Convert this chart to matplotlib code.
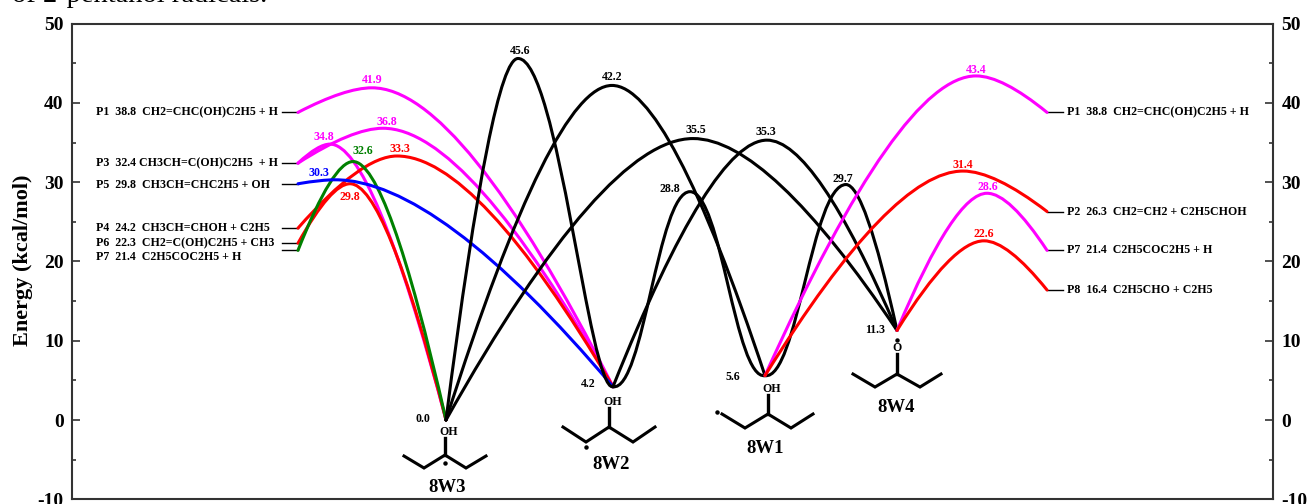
import matplotlib
matplotlib.use('Agg')
import matplotlib.pyplot as plt
from matplotlib.path import Path
from matplotlib.patches import PathPatch

plt.rcParams['font.family'] = ['Liberation Serif', 'DejaVu Serif']
plt.rcParams['font.weight'] = 'bold'
plt.rcParams['axes.unicode_minus'] = False

# wells
well_names = ['8W3', '8W2', '8W1', '8W4']
well_x = [446, 613, 765, 897]
well_e = [0.0, 4.2, 5.6, 11.3]

# products on each side
left_x = 298
right_x = 1047
left_labels = ['P1  38.8  CH2=CHC(OH)C2H5 + H', 'P3  32.4 CH3CH=C(OH)C2H5  + H', 'P5  29.8  CH3CH=CHC2H5 + OH',
               'P4  24.2  CH3CH=CHOH + C2H5', 'P6  22.3  CH2=C(OH)C2H5 + CH3', 'P7  21.4  C2H5COC2H5 + H']
left_e = [38.8, 32.4, 29.8, 24.2, 22.3, 21.4]
right_labels = ['P1  38.8  CH2=CHC(OH)C2H5 + H', 'P2  26.3  CH2=CH2 + C2H5CHOH', 'P7  21.4  C2H5COC2H5 + H', 'P8  16.4  C2H5CHO + C2H5']
right_e = [38.8, 26.3, 21.4, 16.4]

# barriers: start, peak, end
start_x = [298, 298, 298, 298, 298, 298, 298, 446, 446, 446, 613, 613, 765, 765, 765, 897, 897]
start_e = [38.8, 32.4, 32.4, 24.2, 22.3, 21.4, 29.8, 0.0, 0.0, 0.0, 4.2, 4.2, 5.6, 5.6, 5.6, 11.3, 11.3]
peak_x = [372, 383, 330, 397, 350, 353, 335, 518, 612, 693, 690, 767, 846, 976, 963, 987, 984]
peak_e = [41.9, 36.8, 34.8, 33.3, 29.8, 32.6, 30.3, 45.6, 42.2, 35.5, 28.8, 35.3, 29.7, 43.4, 31.4, 28.6, 22.6]
end_x = [613, 613, 446, 613, 446, 446, 613, 613, 765, 897, 765, 897, 897, 1047, 1047, 1047, 1047]
end_e = [4.2, 4.2, 0.0, 4.2, 0.0, 0.0, 4.2, 4.2, 5.6, 11.3, 5.6, 11.3, 11.3, 38.8, 26.3, 21.4, 16.4]
colors = ['#ff00ff', '#ff00ff', '#ff00ff', '#ff0000', '#ff0000', '#008000', '#0000ff',
          'black', 'black', 'black', 'black', 'black', 'black',
          '#ff00ff', '#ff0000', '#ff00ff', '#ff0000']
round_start = {10: 0.4, 12: 0.4}
round_end = {7: 0.25, 10: 0.4}

# where the peak numbers sit, in picture pixels
peak_label_px = [(372, 80), (387, 122), (324, 137), (400, 149), (350, 197), (363, 151), (319, 173),
                 (520, 51), (612, 77), (696, 130), (670, 189), (766, 132), (843, 179),
                 (976, 70), (963, 165), (988, 187), (984, 234)]


def ey(py):
    # picture y pixel to energy
    return (420 - py) / 7.93


def side(a, p, tail, rounded):
    # curve from point a to peak p, horizontal at the peak
    dx = p[0] - a[0]
    if rounded:
        return [(a[0] + rounded * dx, a[1] - 0.6), (p[0] - 0.42 * dx, p[1])]
    q = (p[0] - tail * dx, p[1])
    return [(a[0] + 2 / 3 * (q[0] - a[0]), a[1] + 2 / 3 * (q[1] - a[1])),
            (p[0] + 2 / 3 * (q[0] - p[0]), p[1])]


fig = plt.figure(figsize=(13.07, 5.04), dpi=100)
ax = fig.add_axes([72 / 1307, 1 - 499.3 / 504, (1273 - 72) / 1307, (499.3 - 23.6) / 504])
ax.set_xlim(72, 1273)
ax.set_ylim(-10, 50)

for i in range(len(peak_x)):
    a = (start_x[i], start_e[i])
    p = (peak_x[i], peak_e[i])
    b = (end_x[i], end_e[i])
    c1 = side(a, p, 0.36, round_start.get(i))
    c2 = side(b, p, 0.37, round_end.get(i))
    verts = [a, c1[0], c1[1], p, c2[1], c2[0], b]
    codes = [Path.MOVETO] + [Path.CURVE4] * 6
    ax.add_patch(PathPatch(Path(verts, codes), fill=False, edgecolor=colors[i], lw=2.2, capstyle='round', zorder=3))
    lx, ly = peak_label_px[i]
    ax.text(lx, ey(ly), '%.1f' % peak_e[i], color=colors[i], fontsize=8.6, ha='center', va='center')

# stubs and product labels
left_label_e = [38.8, 32.4, 29.6, 24.2, 22.3, 20.5]
for name, e, le in zip(left_labels, left_e, left_label_e):
    ax.plot([282, left_x], [e, e], color='black', lw=1, zorder=2)
    ax.text(96, le, name, fontsize=8.6, ha='left', va='center')
for name, e in zip(right_labels, right_e):
    ax.plot([right_x, 1063], [e, e], color='black', lw=1, zorder=2)
    ax.text(1067, e, name, fontsize=8.6, ha='left', va='center')

# well labels and molecules, in picture pixels
well_value_px = [(423, 419), (588, 384), (733, 377), (875, 330)]
well_name_px = [(447, 487), (611, 464), (765, 448), (896, 407)]
chain_px = [[(404, 456), (424, 468), (445, 455), (466, 468), (486, 456)],
            [(563, 427), (586, 442), (609, 427), (633, 442), (655, 427)],
            [(722, 414), (745, 428), (768, 414), (791, 428), (813, 414)],
            [(853, 374), (875, 387), (897, 374), (920, 387), (941, 374)]]
bond_top_px = [438, 408, 395, 354]
oh_px = [(449, 432), (613, 402), (772, 389), (897, 348)]
oh_text = ['OH', 'OH', 'OH', 'O']
dot_px = [(445, 463), (586, 447), (717, 412), (897, 340)]

for i in range(4):
    ax.text(well_value_px[i][0], ey(well_value_px[i][1]), '%.1f' % well_e[i], fontsize=8.6, ha='center', va='center')
    ax.text(well_name_px[i][0], ey(well_name_px[i][1]), well_names[i], fontsize=13.5, ha='center', va='center')
    ax.plot([c[0] for c in chain_px[i]], [ey(c[1]) for c in chain_px[i]], color='black', lw=2.2, solid_joinstyle='miter', zorder=2)
    mid = chain_px[i][2]
    ax.plot([mid[0], mid[0]], [ey(mid[1]), ey(bond_top_px[i])], color='black', lw=2.4, zorder=2)
    ax.text(oh_px[i][0], ey(oh_px[i][1]), oh_text[i], fontsize=8.6, ha='center', va='center')
    ax.plot(dot_px[i][0], ey(dot_px[i][1]), 'o', color='black', ms=2.2, zorder=2)

# axes
for s in ax.spines.values():
    s.set_linewidth(1.5)
    s.set_color('#333333')
ax.set_xticks([])
ax.set_yticks(range(-10, 51, 10))
ax.set_yticks(range(-5, 50, 10), minor=True)
ax.tick_params(axis='y', which='major', direction='in', length=5.5, width=1.2, color='#333333',
               left=True, right=True, labelleft=True, labelright=True, labelsize=14, pad=6)
ax.tick_params(axis='y', which='minor', direction='in', length=3, width=1.2, color='#333333', left=True, right=True)
for t in ax.get_yticklabels():
    t.set_fontweight('bold')

fig.text(23 / 1307, 1 - 260 / 504, 'Energy (kcal/mol)', rotation=90, fontsize=16, ha='center', va='center')
fig.text(12 / 1307, 1 - 1.5 / 504, 'of 2-pentanol radicals.', fontsize=20.5, fontweight='normal', ha='left', va='baseline')

fig.savefig('out.png', dpi=100)
